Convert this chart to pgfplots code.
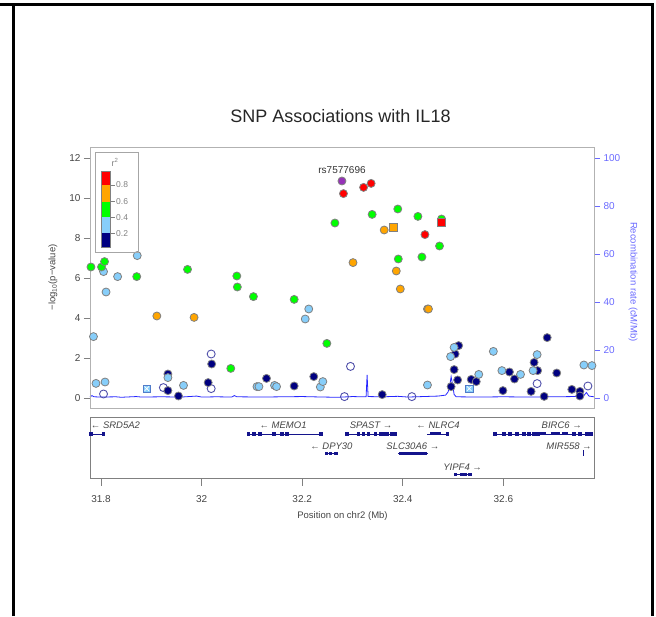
\documentclass[border=0pt]{standalone}
\usepackage{pgfplots}
\pgfplotsset{compat=1.18}
\usepackage{fontspec}
\setmainfont{Liberation Sans}
\definecolor{lzred}{HTML}{FF0000}
\definecolor{lzorange}{HTML}{FFA500}
\definecolor{lzgreen}{HTML}{00FF00}
\definecolor{lzlblue}{HTML}{87CEFA}
\definecolor{lznavy}{HTML}{000080}
\definecolor{lzpurple}{HTML}{9632B8}
\definecolor{lzopen}{HTML}{5050AA}
\definecolor{genecol}{HTML}{14148C}
\definecolor{txt}{HTML}{444444}
\definecolor{recblue}{HTML}{6A6AFF}
\pgfplotsset{
  pt/.style={only marks, mark=*, mark size=4pt, mark options={draw=gray, line width=0.8pt, fill=#1}},
  sq/.style={only marks, mark=square*, mark size=4pt, mark options={draw=gray, line width=0.8pt, fill=#1}},
}
\begin{document}
\begin{tikzpicture}[x=1pt,y=1pt]
\useasboundingbox (0pt,0pt) rectangle (656pt,616pt);
\draw[line width=3pt] (0pt,611pt) -- (653.5pt,611pt);
\draw[line width=3pt] (13pt,0pt) -- (13pt,612.5pt);
\draw[line width=3pt] (652pt,0pt) -- (652pt,612.5pt);

% recombination axis
\begin{axis}[at={(90pt,208pt)}, anchor=south west, scale only axis, width=504pt, height=261pt,
  xmin=31.7781, xmax=32.7801, ymin=-4.1667, ymax=104.583,
  hide x axis, axis y line*=right, y axis line style={draw=none},
  ytick={0,20,40,60,80,100}, tick align=outside, major tick length=6pt,
  ytick style={recblue, line width=0.8pt},
  yticklabel style={text=recblue, font=\fontsize{10}{12}\selectfont},
  /pgf/number format/assume math mode=true, clip=false]
\addplot[blue!85, line width=0.8pt] coordinates {
(31.778,0.4) (31.782,1.0) (31.786,0.5) (31.80,0.4) (31.83,0.5) (31.84,0.3) (31.87,0.6) (31.88,0.4)
(31.92,0.5) (31.96,0.4) (31.99,0.8) (32.00,0.4) (32.03,0.5) (32.06,0.4) (32.065,1.0) (32.07,0.5)
(32.12,0.4) (32.16,0.5) (32.20,0.6) (32.24,0.4) (32.27,0.3) (32.30,0.6) (32.32,0.5) (32.327,0.5)
(32.329,9.6) (32.331,0.6) (32.36,0.5) (32.39,0.7) (32.41,0.4) (32.44,0.6) (32.47,0.8) (32.485,1.2)
(32.49,2.5) (32.494,6) (32.496,8.9) (32.499,5.5) (32.502,1.5) (32.506,0.5) (32.55,0.4) (32.60,0.5)
(32.65,0.4) (32.70,0.5) (32.74,0.6) (32.76,1.0) (32.765,2.3) (32.77,0.8) (32.78,0.5)};
\draw[recblue, line width=0.8pt] (axis cs:32.7801,0) -- (axis cs:32.7801,100);
\end{axis}

% main association axis
\begin{axis}[at={(90pt,208pt)}, anchor=south west, scale only axis, width=504pt, height=261pt,
  xmin=31.7781, xmax=32.7801, ymin=-0.5, ymax=12.55,
  xtick=\empty, ytick={0,2,4,6,8,10,12}, ytick pos=left, tick align=outside, major tick length=6pt,
  axis line style={gray!60, line width=0.8pt}, ytick style={gray, line width=0.8pt},
  yticklabel style={text=txt, font=\fontsize{10}{12}\selectfont},
  /pgf/number format/assume math mode=true]
% open circles (no LD)
\addplot[only marks, mark=o, mark size=4pt, mark options={draw=lzopen, line width=0.9pt}] coordinates {
(31.805,0.2) (31.924,0.52) (32.019,2.2) (32.019,0.47) (32.284,0.07) (32.296,1.58) (32.418,0.07) (32.667,0.72) (32.768,0.6)};
% squares with cross
\addplot[only marks, mark=square*, mark size=3.6pt, mark options={draw=lzlblue!60!lznavy, fill=lzlblue, line width=0.6pt}] coordinates {(31.891,0.47) (32.532,0.47)};
\addplot[only marks, mark=x, mark size=3.2pt, mark options={draw=white, line width=0.7pt}] coordinates {(31.891,0.47) (32.532,0.47)};
% r2 < 0.2
\addplot[pt=lznavy] coordinates {
(31.933,1.2) (31.933,0.37) (31.954,0.1) (32.013,0.77) (32.02,1.7) (32.129,0.98) (32.184,0.6) (32.223,1.07)
(32.359,0.17) (32.496,0.57) (32.502,1.42) (32.504,2.2) (32.509,0.9) (32.511,2.62) (32.536,0.93) (32.546,0.82)
(32.599,0.37) (32.612,1.3) (32.622,0.95) (32.655,0.33) (32.661,1.78) (32.668,1.37) (32.681,0.08) (32.687,3.02)
(32.706,1.25) (32.736,0.43) (32.752,0.33) (32.752,0.1)};
% 0.2-0.4
\addplot[pt=lzlblue] coordinates {
(31.785,3.07) (31.79,0.73) (31.805,6.32) (31.808,0.8) (31.81,5.3) (31.833,6.07) (31.872,7.12) (31.933,1.02)
(31.964,0.63) (32.11,0.57) (32.114,0.57) (32.145,0.63) (32.149,0.57) (32.206,3.95) (32.213,4.45) (32.236,0.55)
(32.241,0.82) (32.449,0.65) (32.495,2.07) (32.502,2.53) (32.551,1.18) (32.58,2.33) (32.597,1.37) (32.634,1.18)
(32.659,1.37) (32.667,2.17) (32.76,1.65) (32.776,1.62)};
% 0.4-0.6
\addplot[pt=lzgreen] coordinates {
(31.78,6.55) (31.801,6.55) (31.807,6.82) (31.871,6.07) (31.972,6.43) (32.07,6.1) (32.071,5.55) (32.058,1.48)
(32.103,5.07) (32.184,4.93) (32.249,2.73) (32.265,8.75) (32.339,9.18) (32.39,9.45) (32.391,6.95) (32.43,9.08)
(32.438,7.05) (32.473,7.6) (32.477,8.95)};
% 0.6-0.8
\addplot[pt=lzorange] coordinates {
(31.778,8.48) (31.911,4.1) (31.985,4.03) (32.301,6.77) (32.363,8.4) (32.387,6.35) (32.395,5.45) (32.449,4.45) (32.451,4.45)};
\addplot[sq=lzorange] coordinates {(32.382,8.55)};
% >0.8
\addplot[pt=lzred] coordinates {(32.282,10.22) (32.322,10.53) (32.337,10.73) (32.444,8.17)};
\addplot[sq=lzred] coordinates {(32.477,8.8)};
% index SNP
\addplot[pt=lzpurple] coordinates {(32.279,10.85)};
\end{axis}

% gene panel
\begin{axis}[at={(90pt,137pt)}, anchor=south west, scale only axis, width=504pt, height=61pt,
  xmin=31.7781, xmax=32.7801, ymin=0, ymax=61, ytick=\empty,
  xtick={31.8,32,32.2,32.4,32.6}, xticklabels={31.8,32,32.2,32.4,32.6}, xtick pos=left,
  tick align=outside, major tick length=7pt,
  axis line style={gray, line width=1pt}, xtick style={gray, line width=0.8pt},
  xticklabel style={text=txt, font=\fontsize{10}{12}\selectfont, yshift=-6pt},
  clip=false, unbounded coords=jump]
% gene bodies
\addplot[genecol, line width=0.7pt] coordinates {
(31.779,45) (31.805,45) (nan,nan)
(32.092,45) (32.238,45) (nan,nan)
(32.287,45) (32.385,45) (nan,nan)
(32.449,45) (32.492,45) (nan,nan)
(32.581,45) (32.776,45) (nan,nan)
(32.247,25.7) (32.267,25.7) (nan,nan)
(32.391,25.7) (32.450,25.7) (nan,nan)
(32.502,4.7) (32.534,4.7)};
% exon clusters
\addplot[genecol, line width=3pt] coordinates {
(32.455,45) (32.476,45) (nan,nan)
(32.672,45) (32.684,45) (nan,nan)
(32.694,45) (32.713,45) (nan,nan)
(32.716,45) (32.728,45) (nan,nan)
(32.393,25.7) (32.449,25.7) (nan,nan)
(32.514,4.7) (32.527,4.7)};
% single exons
\addplot[only marks, mark=square*, mark size=1.3pt, mark options={draw=genecol, fill=genecol}] coordinates {
(31.780,45) (31.804,45)
(32.093,45) (32.103,45) (32.116,45) (32.143,45) (32.159,45) (32.169,45) (32.237,45)
(32.288,45) (32.311,45) (32.321,45) (32.331,45) (32.345,45) (32.355,45) (32.361,45) (32.368,45) (32.378,45) (32.385,45)
(32.488,45)
(32.583,45) (32.600,45) (32.613,45) (32.626,45) (32.640,45) (32.650,45) (32.660,45) (32.664,45) (32.668,45)
(32.740,45) (32.752,45) (32.765,45) (32.774,45)
(32.248,25.7) (32.256,25.7) (32.266,25.7)
(32.504,4.7) (32.533,4.7)};
\addplot[genecol, line width=0.8pt] coordinates {(32.7585,23) (32.7585,28.5)};
% gene labels
\begin{scope}[every node/.style={font=\fontsize{9.5}{11}\selectfont\itshape, text=txt, inner sep=0pt}]
\node[anchor=west] at (axis cs:31.7795,53.3) {← SRD5A2};
\node at (axis cs:32.162,53.3) {← MEMO1};
\node at (axis cs:32.337,53.3) {SPAST →};
\node at (axis cs:32.470,53.3) {← NLRC4};
\node at (axis cs:32.716,53.3) {BIRC6 →};
\node at (axis cs:32.258,32.3) {← DPY30};
\node at (axis cs:32.420,32.3) {SLC30A6 →};
\node[anchor=east] at (axis cs:32.776,32.3) {MIR558 →};
\node at (axis cs:32.519,11.7) {YIPF4 →};
\end{scope}
\end{axis}

% legend (colour key)
\draw[gray!70, line width=0.8pt] (95pt,364pt) rectangle (138pt,464pt);
\fill[lzred] (101pt,445pt) rectangle (110pt,431pt);
\fill[lzorange] (101pt,431pt) rectangle (110pt,414.3pt);
\fill[lzgreen] (101pt,414.3pt) rectangle (110pt,398.7pt);
\fill[lzlblue] (101pt,398.7pt) rectangle (110pt,382.7pt);
\fill[lznavy] (101pt,382.7pt) rectangle (110pt,368.3pt);
\draw[gray, line width=0.6pt] (101pt,445pt) rectangle (110pt,368.3pt);
\foreach \yy/\lab in {431/0.8, 414.3/0.6, 398.7/0.4, 382.7/0.2}{
  \draw[gray, line width=0.6pt] (110pt,\yy pt) -- (115pt,\yy pt);
  \node[font=\fontsize{8.5}{10}\selectfont, text=gray, anchor=west, inner sep=0pt] at (116pt,\yy pt) {\lab};
}
\node[font=\fontsize{9}{10}\selectfont, text=gray] at (115pt,454pt) {r\textsuperscript{2}};

% texts
\node[font=\fontsize{18}{21}\selectfont, text=black!85] at (340.5pt,500pt) {SNP Associations with IL18};
\node[font=\fontsize{10}{12}\selectfont, text=black!80] at (342pt,446pt) {rs7577696};
\node[rotate=90, font=\fontsize{9.5}{11}\selectfont, text=txt] at (53pt,338.5pt) {−log\textsubscript{10}(p−value)};
\node[rotate=-90, font=\fontsize{9.5}{11}\selectfont, text=recblue] at (633pt,334pt) {Recombination rate (cM/Mb)};
\node[font=\fontsize{9.5}{11}\selectfont, text=txt] at (342.5pt,100pt) {Position on chr2 (Mb)};
\end{tikzpicture}
\end{document}
